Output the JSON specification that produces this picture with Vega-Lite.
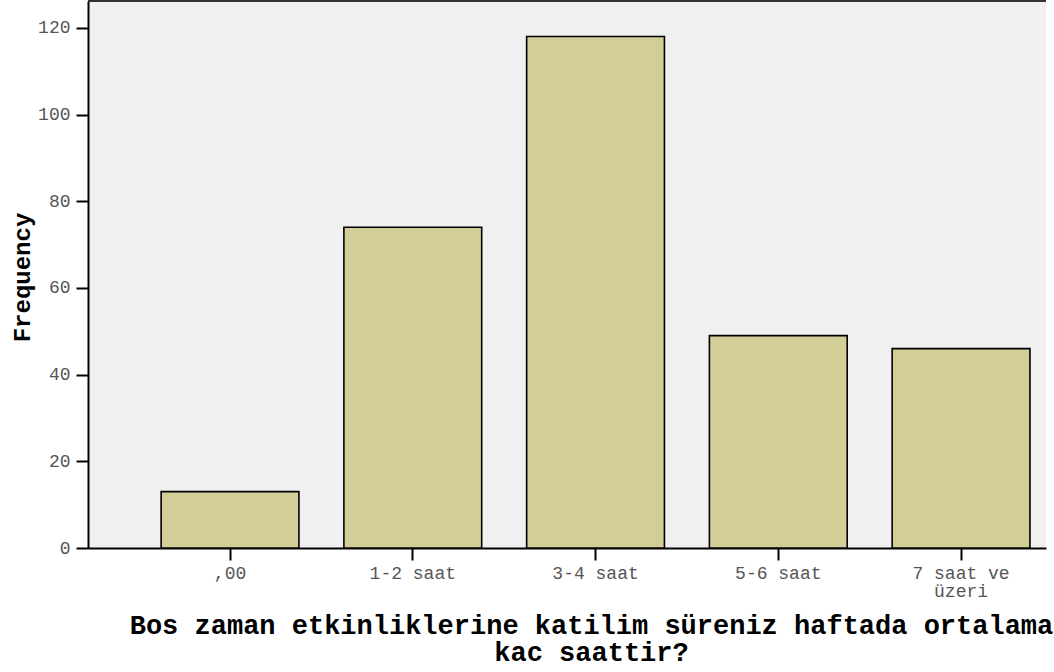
{
  "$schema": "https://vega.github.io/schema/vega-lite/v6.json",
  "width": 958,
  "height": 547,
  "autosize": {"type": "none"},
  "padding": {"left": 88, "top": 1, "right": 8, "bottom": 124},
  "background": "white",
  "config": {
    "view": {"stroke": null, "fill": "#F0F0F0"},
    "font": "Liberation Mono"
  },
  "data": {
    "values": [
      {"category": ",00", "frequency": 13},
      {"category": "1-2 saat", "frequency": 74},
      {"category": "3-4 saat", "frequency": 118},
      {"category": "5-6 saat", "frequency": 49},
      {"category": "7 saat ve üzeri", "frequency": 46}
    ]
  },
  "layer": [
    {
      "mark": {"type": "bar", "fill": "#D3CE97", "stroke": "#000000", "strokeWidth": 1.6},
      "encoding": {
        "x": {
          "field": "category",
          "type": "nominal",
          "sort": null,
          "scale": {"paddingInner": 0.246, "paddingOuter": 0.244, "align": 0.82},
          "axis": {
            "domainColor": "#000000",
            "domainWidth": 2,
            "tickColor": "#000000",
            "tickWidth": 2,
            "tickSize": 12,
            "labelAngle": 0,
            "labelFont": "Liberation Mono",
            "labelFontSize": 18,
            "labelColor": "#555555",
            "labelPadding": 4,
            "labelLineHeight": 18,
            "labelExpr": "datum.value == '7 saat ve üzeri' ? ['7 saat ve', 'üzeri'] : datum.label",
            "title": ["Bos zaman etkinliklerine katilim süreniz haftada ortalama", "kac saattir?"],
            "titleFont": "Liberation Mono",
            "titleFontWeight": "bold",
            "titleFontSize": 27,
            "titleColor": "#000000",
            "titleAlign": "center",
            "titleAnchor": "start",
            "titleBaseline": "alphabetic",
            "titleX": 503,
            "titleY": 85,
            "titleLineHeight": 27
          }
        },
        "y": {
          "field": "frequency",
          "type": "quantitative",
          "scale": {"domain": [0, 126.2], "nice": false},
          "axis": {
            "values": [0, 20, 40, 60, 80, 100, 120],
            "grid": false,
            "domainColor": "#000000",
            "domainWidth": 2,
            "tickColor": "#000000",
            "tickWidth": 2,
            "tickSize": 12,
            "labelFont": "Liberation Mono",
            "labelFontSize": 18,
            "labelColor": "#555555",
            "labelPadding": 6,
            "title": "Frequency",
            "titleFont": "Liberation Mono",
            "titleFontWeight": "bold",
            "titleFontSize": 24,
            "titleColor": "#000000",
            "titleAngle": -90,
            "titleAlign": "center",
            "titleAnchor": "start",
            "titleBaseline": "alphabetic",
            "titleX": -59,
            "titleY": 276
          }
        }
      }
    },
    {
      "mark": {"type": "rule", "color": "#333333", "strokeWidth": 1.5},
      "encoding": {"y": {"datum": 126.2}}
    }
  ]
}
